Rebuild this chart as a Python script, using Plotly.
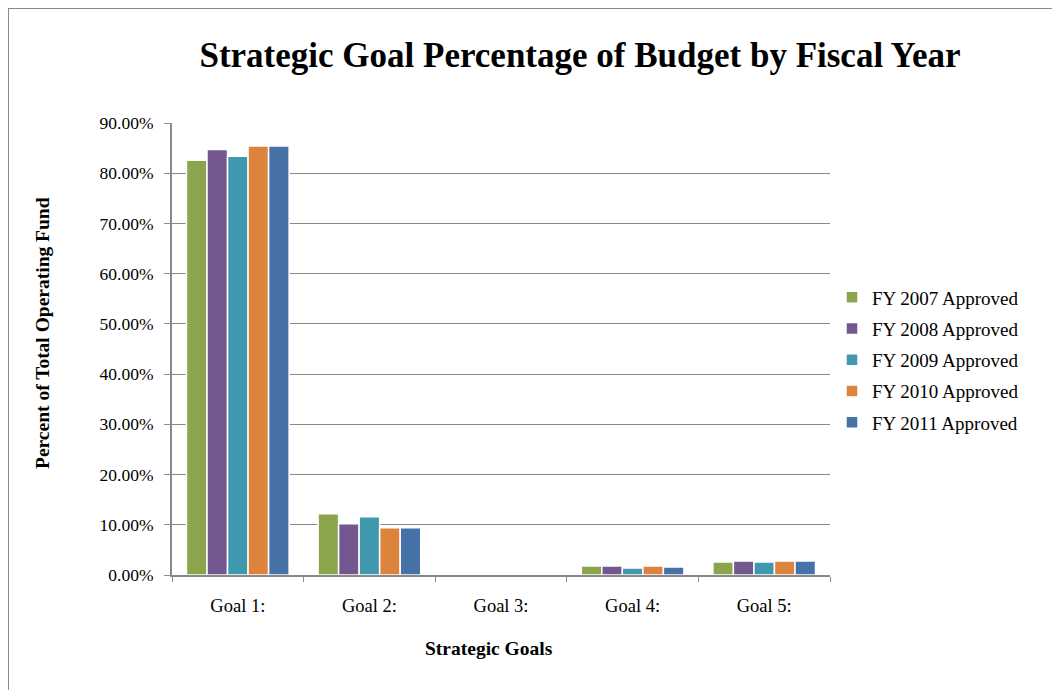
import plotly.graph_objects as go

categories = ["Goal 1:", "Goal 2:", "Goal 3:", "Goal 4:", "Goal 5:"]
series_names = ["FY 2007 Approved", "FY 2008 Approved", "FY 2009 Approved",
                "FY 2010 Approved", "FY 2011 Approved"]
fy2007 = [82.6, 12.2, 0.05, 1.8, 2.6]
fy2008 = [84.7, 10.2, 0.05, 1.8, 2.8]
fy2009 = [83.4, 11.6, 0.05, 1.4, 2.6]
fy2010 = [85.4, 9.4, 0.05, 1.8, 2.8]
fy2011 = [85.4, 9.4, 0.05, 1.6, 2.8]
colors = ["#8AA54C", "#73588F", "#3F98AE", "#DC843C", "#4672A8"]

font_family = "Liberation Serif, Times New Roman, serif"

# plot area in figure pixels (page is offset by 8px body margin)
L, R, T, B = 164, 238, 115, 123
W, H = 1060, 690
PW, PH = W - L - R, H - T - B

fig = go.Figure()
for name, vals, col in zip(series_names, [fy2007, fy2008, fy2009, fy2010, fy2011], colors):
    fig.add_trace(go.Bar(
        x=categories, y=vals, name=name, legendgroup=name,
        marker=dict(color=col, line=dict(color="white", width=1.5)),
    ))

fig.update_layout(
    width=W, height=H,
    margin=dict(l=L, r=R, t=T, b=B),
    paper_bgcolor="white", plot_bgcolor="white",
    barmode="group", bargap=0.22, bargroupgap=0,
    font=dict(family=font_family, color="black", size=16),
    title=dict(text="<b>Strategic Goal Percentage of Budget by Fiscal Year</b>",
               x=572 / W, xanchor="center", y=1 - 47 / H, yanchor="middle",
               font=dict(size=35, family=font_family)),
    legend=dict(x=(824 - L) / PW, xanchor="left", y=(H - B - 352) / PH, yanchor="middle",
                font=dict(size=19, family=font_family), tracegroupgap=3.5,
                itemwidth=30),
    showlegend=True,
)
fig.update_xaxes(
    showline=True, linecolor="#8A8A8A", linewidth=2,
    ticks="outside", tickson="boundaries", ticklen=5, tickcolor="#8A8A8A",
    tickfont=dict(size=18.5), ticklabelstandoff=13,
)
fig.update_yaxes(
    range=[0, 90], dtick=10, tickformat=".2f", ticksuffix="%",
    showline=True, linecolor="#8A8A8A", linewidth=2,
    showgrid=True, gridcolor="#8A8A8A", gridwidth=1,
    ticks="outside", ticklen=6, tickcolor="#8A8A8A",
    tickfont=dict(size=17.5), zeroline=False, ticklabelstandoff=7,
)

fig.add_annotation(text="<b>Percent of Total Operating Fund</b>", textangle=-90,
                   xref="paper", yref="paper", x=(34 - L) / PW, y=(H - B - 325) / PH,
                   xanchor="center", yanchor="middle", showarrow=False,
                   font=dict(size=19.5, family=font_family, color="black"))
fig.add_annotation(text="<b>Strategic Goals</b>",
                   xref="paper", yref="paper", x=(481 - L) / PW, y=(H - B - 640) / PH,
                   xanchor="center", yanchor="middle", showarrow=False,
                   font=dict(size=19.5, family=font_family, color="black"))

fig.add_shape(type="rect", xref="paper", yref="paper",
              x0=(0 - L) / PW, x1=(W + 20 - L) / PW,
              y0=(H - B - (H + 20)) / PH, y1=(H - B - 0) / PH,
              line=dict(color="#8A8A8A", width=2), fillcolor="rgba(0,0,0,0)",
              layer="below")

fig.write_html("out.html")
